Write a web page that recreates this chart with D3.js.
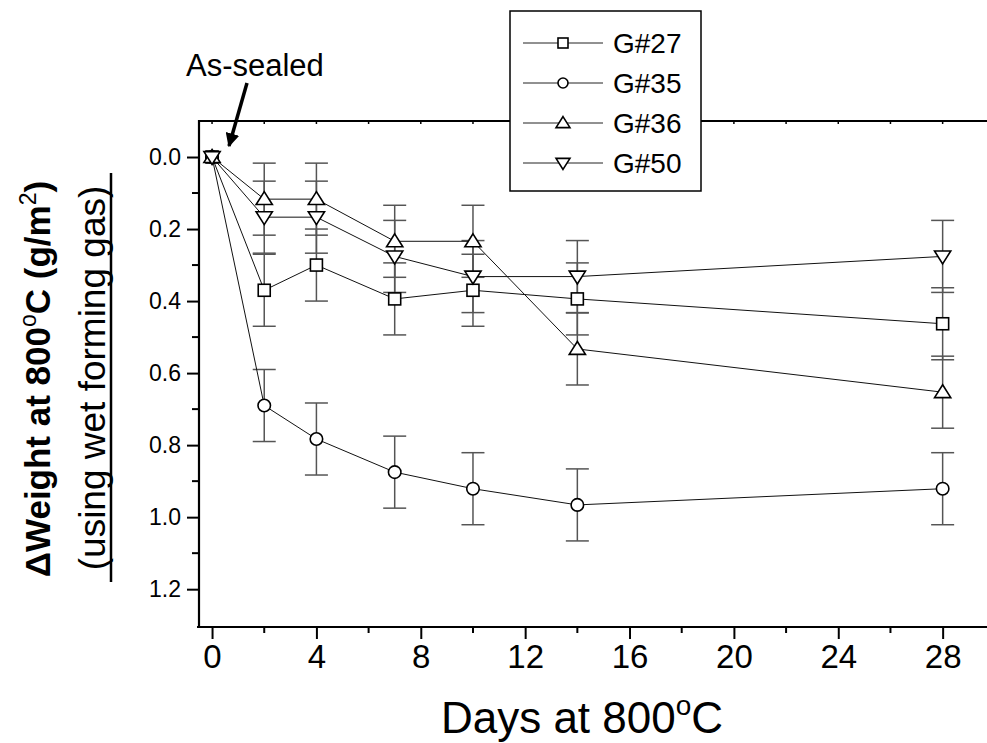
<!DOCTYPE html>
<html>
<head>
<meta charset="utf-8">
<script src="https://cdn.jsdelivr.net/npm/d3@7"></script>
<style>
  body { margin: 0; background: #fff; }
  text { font-family: "Liberation Sans", Arial, sans-serif; fill: #000; }
</style>
</head>
<body>
<div class="chart"></div>
<script>
// days of exposure
var days = [0, 2, 4, 7, 10, 14, 28];
// weight change (g/m2), plotted downward
var g27 = [0, 0.37, 0.30, 0.394, 0.37, 0.394, 0.463];
var g35 = [0, 0.69, 0.783, 0.875, 0.921, 0.966, 0.921];
var g36 = [0, 0.117, 0.117, 0.234, 0.234, 0.533, 0.653];
var g50 = [0, 0.167, 0.167, 0.276, 0.332, 0.332, 0.276];
var errBar = 0.1;
var seriesNames = ["G#27", "G#35", "G#36", "G#50"];
var seriesShapes = ["square", "circle", "up", "down"];
var xTickVals = [0, 4, 8, 12, 16, 20, 24, 28];
var yTickVals = [0, 0.2, 0.4, 0.6, 0.8, 1.0, 1.2];

var series = [g27, g35, g36, g50].map(function(vals, i)
{
  return {
    name: seriesNames[i],
    shape: seriesShapes[i],
    points: days.map(function(d, j) { return { day: d, val: vals[j] }; })
  };
});

var W = 987, H = 743;
var pLeft = 199, pRight = 987, pTop = 121, pBottom = 627;

var svg = d3.select(".chart").append("svg")
    .attr("width", W)
    .attr("height", H);

var x = d3.scaleLinear().domain([-0.5, 29.7]).range([pLeft, pRight]);
var y = d3.scaleLinear().domain([-0.1, 1.305]).range([pTop, pBottom]);

// symbol drawing helper
function drawSymbol(g, shape, s)
{
  if (shape == "square")
  {
    g.append("rect").attr("x", -s / 2).attr("y", -s / 2)
        .attr("width", s).attr("height", s);
  }
  else if (shape == "circle")
  {
    g.append("circle").attr("r", s / 2);
  }
  else if (shape == "up")
  {
    var h = s * 0.86;
    g.append("path").attr("d", "M0," + (-h * 0.62) + "L" + (s * 0.58) + "," + (h * 0.45) +
        "L" + (-s * 0.58) + "," + (h * 0.45) + "Z");
  }
  else
  {
    var h2 = s * 0.86;
    g.append("path").attr("d", "M0," + (h2 * 0.62) + "L" + (s * 0.58) + "," + (-h2 * 0.45) +
        "L" + (-s * 0.58) + "," + (-h2 * 0.45) + "Z");
  }
  g.selectAll("rect,circle,path")
      .attr("fill", "#fff")
      .attr("stroke", "#000")
      .attr("stroke-width", 1.6);
}

// error bars
var errG = svg.append("g").attr("stroke", "#555").attr("stroke-width", 1.5);
series.forEach(function(s)
{
  s.points.filter(function(p) { return p.day > 0; }).forEach(function(p)
  {
    var cx = x(p.day);
    errG.append("line").attr("x1", cx).attr("x2", cx)
        .attr("y1", y(p.val - errBar)).attr("y2", y(p.val + errBar));
    [p.val - errBar, p.val + errBar].forEach(function(v)
    {
      errG.append("line").attr("x1", cx - 11.5).attr("x2", cx + 11.5)
          .attr("y1", y(v)).attr("y2", y(v));
    });
  });
});

// connecting lines
var line = d3.line()
    .x(function(d) { return x(d.day); })
    .y(function(d) { return y(d.val); });

svg.selectAll(".series")
    .data(series)
    .enter()
        .append("path")
        .attr("class", "series")
        .attr("d", function(d) { return line(d.points); })
        .attr("fill", "none")
        .attr("stroke", "#111")
        .attr("stroke-width", 1);

// symbols
series.forEach(function(s)
{
  s.points.forEach(function(p)
  {
    var g = svg.append("g").attr("transform", "translate(" + x(p.day) + "," + y(p.val) + ")");
    drawSymbol(g, s.shape, s.shape == "circle" ? 12.5 : (s.shape == "square" ? 12 : 14));
  });
});

// frame: top border with small ticks
svg.append("line").attr("x1", pLeft).attr("x2", pRight).attr("y1", pTop).attr("y2", pTop)
    .attr("stroke", "#000").attr("stroke-width", 2);
svg.selectAll(".topTick")
    .data(d3.range(0, 30, 2))
    .enter()
        .append("line")
        .attr("x1", function(d) { return x(d); })
        .attr("x2", function(d) { return x(d); })
        .attr("y1", pTop).attr("y2", pTop + 3)
        .attr("stroke", "#000").attr("stroke-width", 1.5);

// bottom axis
var xAxis = d3.axisBottom(x).tickValues(xTickVals).tickSize(12).tickPadding(6)
    .tickFormat(d3.format("d"));
var gx = svg.append("g").attr("transform", "translate(0," + pBottom + ")").call(xAxis);
gx.select(".domain").remove();
gx.selectAll(".tick line").attr("stroke-width", 2);
gx.selectAll("text").attr("font-size", 33).attr("font-family", "Liberation Sans, Arial");
svg.append("g").selectAll("line")
    .data(d3.range(2, 28, 4))
    .enter()
        .append("line")
        .attr("x1", function(d) { return x(d); })
        .attr("x2", function(d) { return x(d); })
        .attr("y1", pBottom).attr("y2", pBottom + 6)
        .attr("stroke", "#000").attr("stroke-width", 2);
svg.append("line").attr("x1", pLeft - 2).attr("x2", pRight).attr("y1", pBottom).attr("y2", pBottom)
    .attr("stroke", "#000").attr("stroke-width", 2.2);

// left axis
var yAxis = d3.axisLeft(y).tickValues(yTickVals).tickSize(12).tickPadding(6)
    .tickFormat(d3.format(".1f"));
var gy = svg.append("g").attr("transform", "translate(" + pLeft + ",0)").call(yAxis);
gy.select(".domain").remove();
gy.selectAll(".tick line").attr("stroke-width", 2);
gy.selectAll("text").attr("font-size", 23).attr("font-family", "Liberation Sans, Arial");
svg.append("g").selectAll("line")
    .data(d3.range(0.1, 1.2, 0.2))
    .enter()
        .append("line")
        .attr("x1", pLeft - 7).attr("x2", pLeft)
        .attr("y1", function(d) { return y(d); })
        .attr("y2", function(d) { return y(d); })
        .attr("stroke", "#000").attr("stroke-width", 2);
svg.append("line").attr("x1", pLeft).attr("x2", pLeft).attr("y1", pTop - 1).attr("y2", pBottom + 1)
    .attr("stroke", "#000").attr("stroke-width", 2.2);

// x title
var xt = svg.append("text")
    .attr("x", 582).attr("y", 733)
    .attr("text-anchor", "middle")
    .attr("font-size", 44);
xt.append("tspan").text("Days at 800");
xt.append("tspan").attr("dy", -18).attr("font-size", 28).text("o");
xt.append("tspan").attr("dy", 18).text("C");

// y title, two lines
var yt1 = svg.append("text")
    .attr("transform", "translate(50,379) rotate(-90)")
    .attr("text-anchor", "middle")
    .attr("font-size", 35)
    .attr("font-weight", "bold");
yt1.append("tspan").text("\u0394Weight at 800");
yt1.append("tspan").attr("dy", -14).attr("font-size", 23).attr("font-weight", "normal").text("o");
yt1.append("tspan").attr("dy", 14).text("C (g/m");
yt1.append("tspan").attr("dy", -14).attr("font-size", 23).attr("font-weight", "normal").text("2");
yt1.append("tspan").attr("dy", 14).text(")");

svg.append("text")
    .attr("transform", "translate(105,378) rotate(-90)")
    .attr("text-anchor", "middle")
    .attr("font-size", 37)
    .text("(using wet forming gas)");
svg.append("line").attr("x1", 111).attr("x2", 111).attr("y1", 173).attr("y2", 582)
    .attr("stroke", "#000").attr("stroke-width", 2.5);

// annotation
svg.append("text")
    .attr("x", 186).attr("y", 76)
    .attr("font-size", 31)
    .text("As-sealed");
svg.append("defs").append("marker")
    .attr("id", "arrow")
    .attr("viewBox", "0 0 10 10")
    .attr("refX", 9).attr("refY", 5)
    .attr("markerWidth", 4).attr("markerHeight", 4)
    .attr("orient", "auto")
    .append("path").attr("d", "M0,0L10,5L0,10Z").attr("fill", "#000");
svg.append("line")
    .attr("x1", 247).attr("y1", 83).attr("x2", 229).attr("y2", 146)
    .attr("stroke", "#000").attr("stroke-width", 3.5)
    .attr("marker-end", "url(#arrow)");

// legend
var lg = svg.append("g");
lg.append("rect").attr("x", 510).attr("y", 11).attr("width", 191).attr("height", 180)
    .attr("fill", "#fff").attr("stroke", "#000").attr("stroke-width", 1.5);
series.forEach(function(s, i)
{
  var ry = 43 + i * 40;
  lg.append("line").attr("x1", 523).attr("x2", 603).attr("y1", ry).attr("y2", ry)
      .attr("stroke", "#222").attr("stroke-width", 1);
  var g = lg.append("g").attr("transform", "translate(563," + ry + ")");
  drawSymbol(g, s.shape, s.shape == "circle" ? 10 : (s.shape == "square" ? 10 : 12));
  lg.append("text").attr("x", 613).attr("y", ry + 10).attr("font-size", 28).text(s.name);
});
</script>
</body>
</html>
